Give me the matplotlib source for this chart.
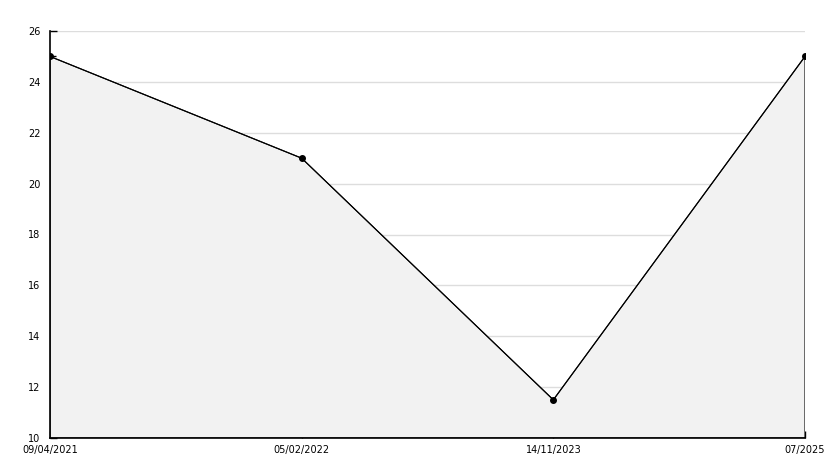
import matplotlib
matplotlib.use("Agg")
import matplotlib.pyplot as plt
from matplotlib.ticker import MultipleLocator

labels = ["09/04/2021", "05/02/2022", "14/11/2023", "07/2025"]
values = [25, 21, 11.5, 25]

x = list(range(len(values)))

fig = plt.figure(figsize=(8.34, 4.68), dpi=100)
ax = fig.add_axes([50 / 834, 1 - 438 / 468, 755 / 834, 407 / 468])

ax.set_xlim(0, len(values) - 1)
ax.set_ylim(10, 26)

ax.yaxis.grid(True, color="#dddddd", linewidth=1)
ax.set_axisbelow(True)

# filled area under the line, outlined in black
px = [x[0]] + x + [x[-1]]
py = [10] + values + [10]
ax.fill(px, py, facecolor="#f2f2f2", edgecolor="black", linewidth=0.8, zorder=2)
ax.plot(x, values, color="black", linewidth=0.8, marker="o", markersize=4, zorder=3)

ax.set_xticks(x)
ax.set_xticklabels(labels)
ax.yaxis.set_major_locator(MultipleLocator(2))
ax.yaxis.set_minor_locator(MultipleLocator(1))
ax.tick_params(axis="both", which="both", direction="in", labelsize=7,
               color="black", width=1)
ax.tick_params(axis="both", which="major", length=5)
ax.tick_params(axis="x", which="major", pad=5)
ax.tick_params(axis="y", which="major", pad=7)
ax.tick_params(axis="y", which="minor", length=4)

for s in ["top", "right"]:
    ax.spines[s].set_visible(False)
for s in ["left", "bottom"]:
    ax.spines[s].set_linewidth(1.2)

fig.savefig("out.png", dpi=100)
